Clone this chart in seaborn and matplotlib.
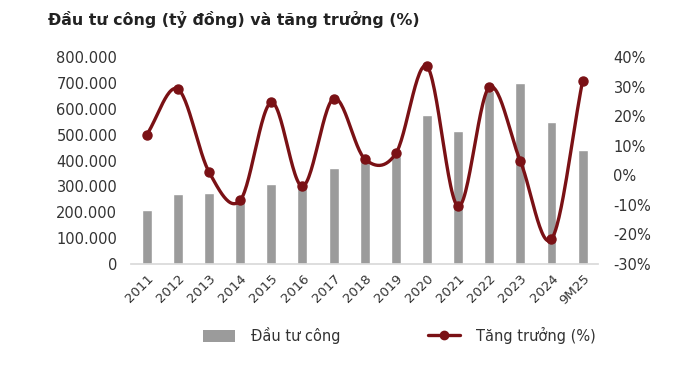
import numpy as np
import pandas as pd
import matplotlib
matplotlib.use("Agg")
import matplotlib.pyplot as plt
import seaborn as sns
from matplotlib.ticker import FuncFormatter
from matplotlib.lines import Line2D
from matplotlib.patches import Patch

years = ["2011", "2012", "2013", "2014", "2015", "2016", "2017", "2018",
         "2019", "2020", "2021", "2022", "2023", "2024", "9M25"]
investment = [207000, 270000, 274000, 238000, 310000, 292000, 373000, 397000,
              416000, 577000, 516000, 668000, 699000, 548000, 441000]
growth = [13.8, 29.2, 1.1, -8.5, 24.7, -3.7, 26.0, 5.6,
          7.4, 36.9, -10.5, 29.8, 4.8, -21.6, 32.0]

title = "Đầu tư công (tỷ đồng) và tăng trưởng (%)"
bar_label = "Đầu tư công"
line_label = "Tăng trưởng (%)"

bar_color = "#9b9b9b"
line_color = "#7a1115"

sns.set_theme(style="white")
plt.rcParams["font.family"] = ["DejaVu Sans"]

df = pd.DataFrame({"year": years, "inv": investment, "g": growth})

fig = plt.figure(figsize=(6.98, 3.67), dpi=100)
ax = fig.add_axes([0.188, 0.281, 0.669, 0.563])
sns.barplot(data=df, x="year", y="inv", color=bar_color, width=0.32,
            saturation=1, ax=ax)
ax.set_ylim(0, 800000)
ax.set_yticks(np.arange(0, 800001, 100000))
ax.yaxis.set_major_formatter(FuncFormatter(lambda v, p: f"{v:,.0f}".replace(",", ".")))
ax.set_xlabel("")
ax.set_ylabel("")
ax.set_xlim(-0.5, len(years) - 0.5)
for s in ["top", "right", "left"]:
    ax.spines[s].set_visible(False)
ax.spines["bottom"].set_color("#d9d9d9")
ax.tick_params(axis="y", length=0, pad=10, labelsize=10.5, labelcolor="#333333")
ax.tick_params(axis="x", length=0, pad=6, labelsize=9.5, labelcolor="#333333")
plt.setp(ax.get_xticklabels(), rotation=45, ha="right", rotation_mode="anchor")

ax2 = ax.twinx()
ax2.set_ylim(-30, 40)
ax2.set_yticks(np.arange(-30, 41, 10))
ax2.yaxis.set_major_formatter(FuncFormatter(lambda v, p: f"{v:.0f}%"))
for s in ax2.spines.values():
    s.set_visible(False)
ax2.tick_params(axis="y", length=0, pad=11, labelsize=10.5, labelcolor="#333333")

# smoothed line (Catmull-Rom rendering through the data points)
xp = np.arange(len(growth), dtype=float)
yp = np.array(growth, dtype=float)
px = np.concatenate([[2 * xp[0] - xp[1]], xp, [2 * xp[-1] - xp[-2]]])
py = np.concatenate([[2 * yp[0] - yp[1]], yp, [2 * yp[-1] - yp[-2]]])
sx, sy = [], []
t = np.linspace(0, 1, 30)
for i in range(1, len(px) - 2):
    p0, p1, p2, p3 = px[i - 1], px[i], px[i + 1], px[i + 2]
    q0, q1, q2, q3 = py[i - 1], py[i], py[i + 1], py[i + 2]
    cx = 0.5 * ((2 * p1) + (-p0 + p2) * t + (2 * p0 - 5 * p1 + 4 * p2 - p3) * t**2 + (-p0 + 3 * p1 - 3 * p2 + p3) * t**3)
    cy = 0.5 * ((2 * q1) + (-q0 + q2) * t + (2 * q0 - 5 * q1 + 4 * q2 - q3) * t**2 + (-q0 + 3 * q1 - 3 * q2 + q3) * t**3)
    sx.extend(cx)
    sy.extend(cy)
ax2.plot(sx, sy, color=line_color, lw=2.4, solid_capstyle="round", zorder=3)
ax2.plot(xp, yp, "o", color=line_color, ms=6.5, zorder=4)

fig.text(0.069, 0.946, title, fontsize=11.4, fontweight="bold", color="#222222",
         ha="left", va="center")

handles = [Patch(facecolor=bar_color, edgecolor="none"),
           Line2D([0], [0], color=line_color, lw=2.4, marker="o", ms=6)]
fig.legend(handles, [bar_label, line_label], loc="center", ncol=2,
           bbox_to_anchor=(0.572, 0.086), frameon=False, fontsize=10.5,
           handlelength=2.2, handleheight=0.9, columnspacing=6.0,
           handletextpad=1.1, labelcolor="#333333")

fig.savefig("out.png", dpi=100)
